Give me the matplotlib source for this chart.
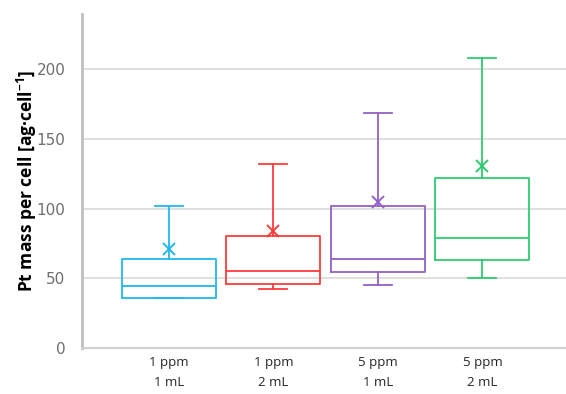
import matplotlib.pyplot as plt

# Pt mass per cell, five-number summaries plus mean for each condition
groups = ["1 ppm\n1 mL", "1 ppm\n2 mL", "5 ppm\n1 mL", "5 ppm\n2 mL"]
whisker_low = [35.5, 42.5, 45.2, 50.0]
q1 = [35.6, 45.9, 54.7, 62.9]
median = [44.7, 55.2, 64.0, 79.3]
q3 = [63.8, 80.3, 102.0, 121.9]
whisker_high = [102.0, 132.0, 168.5, 207.9]
mean = [71.0, 83.9, 104.9, 130.7]
colors = ["#21B8F0", "#FF3B3B", "#9460C4", "#2ECC71"]

stats = []
for i, name in enumerate(groups):
    stats.append(dict(label=name, whislo=whisker_low[i], q1=q1[i], med=median[i],
                      q3=q3[i], whishi=whisker_high[i], mean=mean[i], fliers=[]))

fig = plt.figure(figsize=(5.66, 3.94), dpi=100)
ax = fig.add_axes([0.145, 0.117, 0.855, 0.848])

positions = list(range(1, len(groups) + 1))
for pos, st, c in zip(positions, stats, colors):
    ax.bxp([st], positions=[pos], widths=0.9, showmeans=True, patch_artist=False,
           boxprops=dict(color=c, linewidth=1.3),
           medianprops=dict(color=c, linewidth=1.3),
           whiskerprops=dict(color=c, linewidth=1.3),
           capprops=dict(color=c, linewidth=1.3),
           capwidths=0.27,
           meanprops=dict(marker="x", markeredgecolor=c, markersize=8, markeredgewidth=1.4))

ax.set_xlim(0.17, 4.8)
ax.set_ylim(0, 240)
ax.set_yticks([0, 50, 100, 150, 200])
ax.yaxis.grid(True, color="#D9D9D9", linewidth=1.2)
ax.set_axisbelow(True)

ax.set_xticks(positions)
ax.set_xticklabels(groups, fontsize=9.5, color="#262626", family="Open Sans", linespacing=1.7)
for lbl in ax.get_yticklabels():
    lbl.set_fontsize(11)
    lbl.set_color("#6E6E6E")
ax.tick_params(axis="both", length=0)
ax.tick_params(axis="y", pad=12)
ax.tick_params(axis="x", pad=6)

for side in ["top", "right"]:
    ax.spines[side].set_visible(False)
ax.spines["left"].set_color("#BFBFBF")
ax.spines["left"].set_linewidth(2)
ax.spines["bottom"].set_color("#D0D0D0")
ax.spines["bottom"].set_linewidth(1.5)

ax.set_ylabel("Pt mass per cell [ag·cell$^{\\mathregular{-1}}$]", fontsize=12.5,
              fontweight="bold", family="Open Sans")
ax.yaxis.set_label_coords(-0.09, 0.5)

fig.savefig("out.png", dpi=100)
